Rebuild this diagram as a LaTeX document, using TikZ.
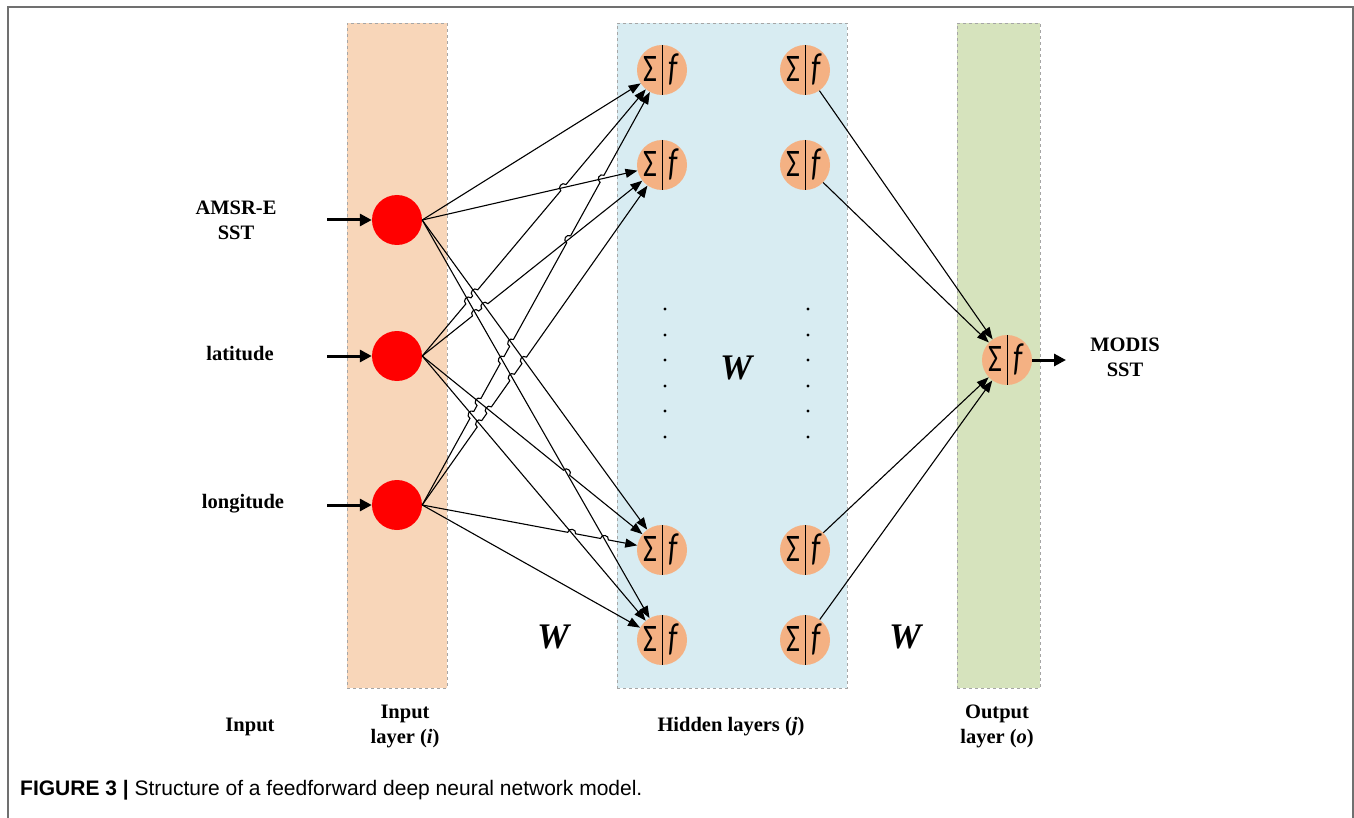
\documentclass[tikz,border=0pt]{standalone}
\usepackage{fontspec}
\usepackage{graphicx}
\setmainfont{Liberation Serif}
\newfontfamily\capfont{Liberation Sans}
\newfontfamily\calfont{Carlito}
\usetikzlibrary{arrows.meta,calc,intersections}
\definecolor{inbg}{HTML}{F8D6B9}
\definecolor{hidbg}{HTML}{D8ECF2}
\definecolor{outbg}{HTML}{D6E3BD}
\definecolor{nodeor}{HTML}{F4B183}
\definecolor{framegray}{HTML}{707070}
\definecolor{dashgray}{HTML}{A6A6A6}
\tikzset{
  layerbox/.style={draw=dashgray, dashed, line width=0.8pt},
  innode/.style={circle, fill=red, minimum size=50pt, inner sep=0pt},
  hidnode/.style={circle, fill=nodeor, minimum size=50pt, inner sep=0pt},
  sumtxt/.style={inner sep=0pt, font=\calfont\fontsize{30}{30}\selectfont},
  lab/.style={font=\bfseries\fontsize{20.5}{25}\selectfont, align=center, inner sep=0pt},
  wlab/.style={font=\bfseries\itshape\fontsize{36}{36}\selectfont, inner sep=0pt},
  conn/.style={line width=1.1pt, -{Triangle[length=12pt,width=9pt]}},
  bigarrow/.style={line width=3pt, -{Triangle[length=12pt,width=12pt]}},
  dotnode/.style={circle, fill=black, minimum size=3.2pt, inner sep=0pt},
}
\newcommand\sumfnode[3]{%
  \node[hidnode] (#1) at (#2,#3) {};
  \draw[line width=1pt] (#1.north) -- (#1.south);
  \node[sumtxt] (#1s) at ([xshift=-12pt,yshift=1pt]#1.center) {\scalebox{1}[1.3]{Σ}};
  \node[sumtxt] (#1f) at ([xshift=11pt,yshift=1pt]#1.center) {\scalebox{1}[1.3]{\itshape f}};
}
\begin{document}
\begin{tikzpicture}[x=1pt,y=-1pt]
\useasboundingbox (0,0) rectangle (1354,818);
% frame
\draw[framegray, line width=2pt] (8,818) -- (8,7) -- (1353,7) -- (1353,818);
% layer boxes
\node[layerbox, fill=inbg, minimum width=100pt, minimum height=665pt, inner sep=0pt] (inbox) at (397,355.5) {};
\node[layerbox, fill=hidbg, minimum width=230pt, minimum height=665pt, inner sep=0pt] (hidbox) at (732,355.5) {};
\node[layerbox, fill=outbg, minimum width=83pt, minimum height=665pt, inner sep=0pt] (outbox) at (998.5,355.5) {};
% input nodes
\node[innode] (in1) at (397,220) {};
\node[innode] (in2) at (397,356) {};
\node[innode] (in3) at (397,505) {};
% hidden nodes
\sumfnode{ha1}{662}{70}
\sumfnode{ha2}{662}{165}
\sumfnode{ha3}{662}{550}
\sumfnode{ha4}{662}{640}
\sumfnode{hb1}{805}{70}
\sumfnode{hb2}{805}{165}
\sumfnode{hb3}{805}{550}
\sumfnode{hb4}{805}{640}
\sumfnode{out}{1007}{360}
% dots
\foreach \yy [count=\k] in {309,335,360,386,411,437}{
  \node[dotnode] (da\k) at (665,\yy) {};
  \node[dotnode] (db\k) at (808,\yy) {};
}
% connections input -> hidden, with line jumps over earlier lines
\gdef\prevpath{}
\foreach \i/\j in {1/1,1/2,1/3,1/4,2/1,2/2,2/3,2/4,3/1,3/2,3/3,3/4}{
  \ifx\prevpath\empty
    \draw[conn] (in\i.east) -- (ha\j);
  \else
    \path[name path=cur] ($(in\i.east)!12pt!(ha\j)$) -- (ha\j);
    \path[name path=prev] \prevpath;
    \path[name intersections={of=cur and prev, name=X, total=\t, sort by=cur}] \pgfextra{\xdef\tot{\t}};
    \ifnum\tot>0
      \foreach \s in {1,...,\tot}{
        \coordinate (Pa\s) at ($(X-\s)!4pt!(in\i.east)$);
        \coordinate (Pb\s) at ($(X-\s)!-4pt!(in\i.east)$);
        \coordinate (Ca\s) at ($(Pa\s)!5pt!90:(X-\s)$);
        \coordinate (Cb\s) at ($(Pb\s)!5pt!-90:(X-\s)$);
      }
      \draw[conn] (in\i.east) \foreach \s in {1,...,\tot}{ -- (Pa\s) .. controls (Ca\s) and (Cb\s) .. (Pb\s)} -- (ha\j);
    \else
      \draw[conn] (in\i.east) -- (ha\j);
    \fi
  \fi
  \xdef\prevpath{\prevpath (in\i.east) -- (ha\j) }
}
% hidden -> output
\foreach \j in {1,2,3,4}{
  \draw[conn] (hb\j) -- (out);
}
% input arrows
\coordinate (a1) at (327,220);
\coordinate (a2) at (327,356);
\coordinate (a3) at (327,505);
\draw[bigarrow] (a1) -- (in1);
\draw[bigarrow] (a2) -- (in2);
\draw[bigarrow] (a3) -- (in3);
\coordinate (o1) at (1066,360);
\draw[bigarrow] (out) -- (o1);
% labels
\node[lab] (l1) at (236,220) {AMSR-E\\SST};
\node[lab] (l2) at (240,354) {latitude};
\node[lab] (l3) at (243,504) {longitude};
\node[lab] (l4) at (1125,357) {MODIS\\SST};
\node[lab] (b1) at (250,727) {Input};
\node[lab] (b2) at (405,726) {Input\\layer (\textit{i})};
\node[lab] (b3) at (731,727) {Hidden layers (\textit{j})};
\node[lab] (b4) at (997,726) {Output\\layer (\textit{o})};
\node[wlab] (w1) at (736,368) {W};
\node[wlab] (w2) at (553,637) {W};
\node[wlab] (w3) at (905,637) {W};
% caption
\node[anchor=west, inner sep=0pt, font=\capfont\fontsize{21}{21}\selectfont] (cap) at (20,790) {\textbf{FIGURE 3 |} Structure of a feedforward deep neural network model.};
\end{tikzpicture}
\end{document}
